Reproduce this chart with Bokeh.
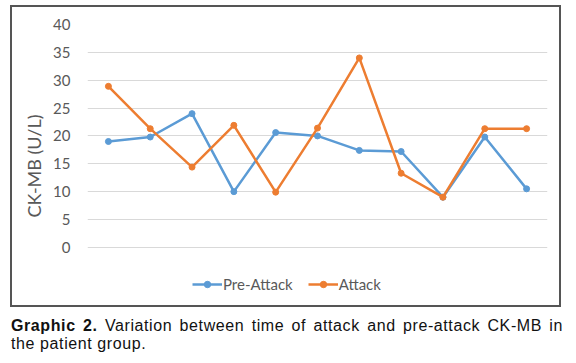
from bokeh.plotting import figure
from bokeh.models import Range1d, Legend, LegendItem, Div, FixedTicker
from bokeh.layouts import column
from bokeh.embed import file_html
from bokeh.resources import INLINE

# ---- data ----
points = [1, 2, 3, 4, 5, 6, 7, 8, 9, 10, 11]
pre_attack = [19.0, 19.8, 24.0, 10.0, 20.6, 20.0, 17.4, 17.2, 9.0, 19.8, 10.5]
attack = [28.9, 21.3, 14.4, 21.9, 9.9, 21.4, 34.0, 13.3, 9.0, 21.3, 21.3]
y_ticks = [0, 5, 10, 15, 20, 25, 30, 35, 40]
y_label = "CK-MB (U/L)"
series_names = ["Pre-Attack", "Attack"]
caption_bold = "Graphic 2."
caption_line1 = " Variation between time of attack and pre-attack CK-MB in"
caption_line2 = "the patient group."

BLUE = "#5B9BD5"
ORANGE = "#ED7D31"
FONT = "Lato"

p = figure(width=551, height=302, output_backend="svg", toolbar_location=None,
           x_range=Range1d(0.5, 11.5), y_range=Range1d(-10.8, 40),
           min_border_left=75, min_border_right=16, min_border_top=17, min_border_bottom=2,
           margin=(5, 0, 0, 10),
           styles={"border": "2px solid #555555"})
p.outline_line_color = None
p.xaxis.visible = False
p.xgrid.visible = False
p.ygrid.grid_line_color = "#D9D9D9"
p.ygrid.grid_line_width = 1

ya = p.yaxis[0]
ya.ticker = FixedTicker(ticks=y_ticks)
ya.axis_line_color = None
ya.major_tick_line_color = None
ya.minor_tick_line_color = None
ya.major_label_text_color = "#595959"
ya.major_label_text_font = FONT
ya.major_label_text_font_size = "15px"
ya.major_label_standoff = 11
ya.axis_label = y_label
ya.axis_label_text_font = FONT
ya.axis_label_text_font_style = "normal"
ya.axis_label_text_font_size = "18px"
ya.axis_label_text_color = "#595959"
ya.axis_label_standoff = 5

l1 = p.line(points, pre_attack, line_color=BLUE, line_width=2.5)
m1 = p.scatter(points, pre_attack, marker="circle", size=6, fill_color=BLUE, line_color=BLUE)
l2 = p.line(points, attack, line_color=ORANGE, line_width=2.5)
m2 = p.scatter(points, attack, marker="circle", size=6, fill_color=ORANGE, line_color=ORANGE)

legend = Legend(items=[LegendItem(label=series_names[0], renderers=[l1, m1]),
                       LegendItem(label=series_names[1], renderers=[l2, m2])],
                orientation="horizontal", location=(105, 14),
                border_line_color=None, background_fill_alpha=0,
                padding=0, margin=0, spacing=15, label_standoff=1,
                glyph_width=30, glyph_height=16, label_height=16,
                label_text_font=FONT, label_text_font_size="15px",
                label_text_color="#595959")
p.add_layout(legend, "center")

cap_html = (
    '<div style="width:552px; text-align:justify; text-align-last:justify;">'
    f'<b>{caption_bold}</b>{caption_line1}</div>'
    f'<div style="width:552px; text-align:left;">{caption_line2}</div>'
)
cap = Div(text=cap_html, width=552, margin=(10, 0, 0, 11),
          styles={"font-family": "'Liberation Sans', Arial, sans-serif", "font-size": "16px",
                  "letter-spacing": "0.6px", "line-height": "18px", "color": "#111111"})

layout = column(p, cap, spacing=0)
open("out.html", "w").write(file_html(layout, INLINE))
